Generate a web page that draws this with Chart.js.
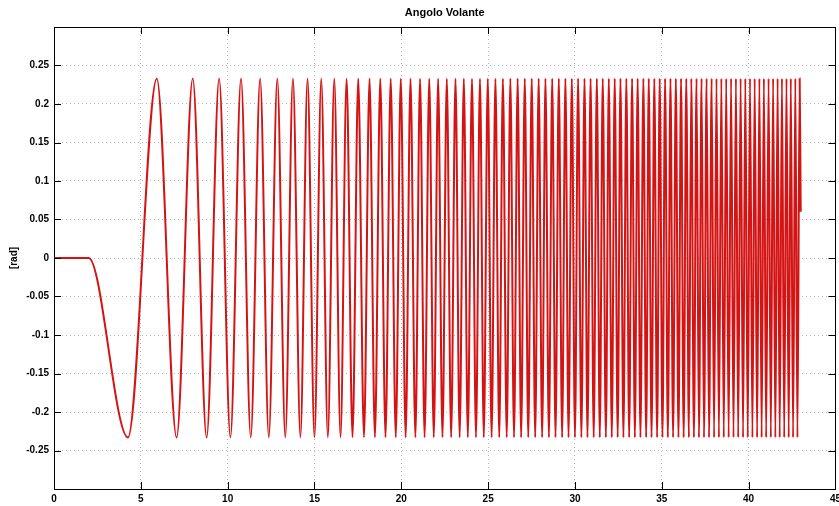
<!DOCTYPE html>
<html>
<head>
<meta charset="utf-8">
<title>Angolo Volante</title>
<script src="https://cdn.jsdelivr.net/npm/chart.js@4.4.1/dist/chart.umd.min.js"></script>
<style>
  html, body { margin: 0; padding: 0; background: #fff; overflow: hidden; }
  #wrap { position: relative; width: 845px; height: 506px; }
</style>
</head>
<body>
<div id="wrap"><canvas id="chart"></canvas></div>
<script>
const chartTitle = 'Angolo Volante';
const yLabel = '[rad]';
const xTicks = [0, 5, 10, 15, 20, 25, 30, 35, 40, 45];
const yTicks = [-0.25, -0.2, -0.15, -0.1, -0.05, 0, 0.05, 0.1, 0.15, 0.2, 0.25];

// signal at rest before the sweep starts
const flatStart = [[0, 0], [2, 0]];
// times [s] of the minima and maxima of the sweep
const troughTimes = [
  4.26, 7.06, 8.79, 10.16, 11.33, 12.37, 13.32, 14.19, 15.00, 15.77,
  16.50, 17.19, 17.85, 18.48, 19.09, 19.68, 20.25, 20.81, 21.34, 21.87,
  22.37, 22.87, 23.36, 23.83, 24.30, 24.75, 25.20, 25.64, 26.07, 26.49,
  26.90, 27.31, 27.71, 28.11, 28.50, 28.88, 29.26, 29.63, 30.00, 30.37,
  30.72, 31.08, 31.43, 31.78, 32.12, 32.46, 32.79, 33.12, 33.45, 33.77,
  34.10, 34.41, 34.73, 35.04, 35.35, 35.65, 35.96, 36.26, 36.56, 36.85,
  37.14, 37.43, 37.72, 38.01, 38.29, 38.57, 38.85, 39.13, 39.40, 39.68,
  39.95, 40.22, 40.49, 40.75, 41.01, 41.28, 41.54, 41.79, 42.05, 42.31,
  42.56, 42.81
];
const peakTimes = [
  5.92, 7.99, 9.51, 10.77, 11.87, 12.86, 13.76, 14.60, 15.39, 16.14,
  16.85, 17.52, 18.17, 18.79, 19.39, 19.97, 20.53, 21.08, 21.61, 22.12,
  22.62, 23.12, 23.60, 24.07, 24.53, 24.98, 25.42, 25.85, 26.28, 26.70,
  27.11, 27.51, 27.91, 28.30, 28.69, 29.07, 29.45, 29.82, 30.18, 30.55,
  30.90, 31.26, 31.60, 31.95, 32.29, 32.62, 32.96, 33.29, 33.61, 33.94,
  34.25, 34.57, 34.88, 35.19, 35.50, 35.81, 36.11, 36.41, 36.70, 37.00,
  37.29, 37.58, 37.87, 38.15, 38.43, 38.71, 38.99, 39.27, 39.54, 39.81,
  40.08, 40.35, 40.62, 40.88, 41.15, 41.41, 41.67, 41.92, 42.18, 42.43,
  42.69, 42.94
];
const peakValue = 0.233;
const troughValue = -0.233;
const endPoint = [43.0, 0.06];

function buildPoints() {
    const ext = troughTimes.map(x => ({ x, y: troughValue }))
        .concat(peakTimes.map(x => ({ x, y: peakValue })))
        .sort((a, b) => a.x - b.x);
    return flatStart.map(([x, y]) => ({ x, y }))
        .concat(ext, [{ x: endPoint[0], y: endPoint[1] }]);
}

const FONT = "'Liberation Sans', Arial, sans-serif";

// box, inward tick marks and title in the Matlab style
const frame = {
    id: 'frame',
    afterDraw(chart) {
        const { ctx, chartArea: a, scales: { x, y } } = chart;
        ctx.save();
        ctx.strokeStyle = '#000';
        ctx.lineWidth = 1;
        ctx.strokeRect(Math.round(a.left) + 0.5, Math.round(a.top) + 0.5,
            Math.round(a.right - a.left), Math.round(a.bottom - a.top));
        ctx.beginPath();
        xTicks.forEach(v => {
            const px = Math.round(x.getPixelForValue(v)) + 0.5;
            ctx.moveTo(px, a.bottom); ctx.lineTo(px, a.bottom - 7);
            ctx.moveTo(px, a.top); ctx.lineTo(px, a.top + 7);
        });
        yTicks.forEach(v => {
            const py = Math.round(y.getPixelForValue(v)) + 0.5;
            ctx.moveTo(a.left, py); ctx.lineTo(a.left + 7, py);
            ctx.moveTo(a.right, py); ctx.lineTo(a.right - 7, py);
        });
        ctx.stroke();
        ctx.fillStyle = '#000';
        ctx.font = 'bold 11px ' + FONT;
        ctx.textAlign = 'center';
        ctx.textBaseline = 'middle';
        ctx.fillText(chartTitle, (a.left + a.right) / 2, 13);
        ctx.restore();
    }
};

new Chart(document.getElementById('chart'), {
    type: 'line',
    data: {
        datasets: [{
            data: buildPoints(),
            borderColor: '#d41414',
            borderWidth: 2,
            pointRadius: 0,
            cubicInterpolationMode: 'monotone',
            fill: false,
        }],
    },
    options: {
        responsive: true,
        maintainAspectRatio: false,
        animation: false,
        layout: { padding: { top: 27, right: 7, left: 0, bottom: 0 } },
        plugins: { legend: { display: false }, tooltip: { enabled: false } },
        scales: {
            x: {
                type: 'linear',
                min: 0,
                max: 45,
                afterBuildTicks: s => { s.ticks = xTicks.map(value => ({ value })); },
                afterFit: s => { s.height = 17; },
                grid: { color: '#b8b8b8', lineWidth: 1, drawTicks: false },
                border: { display: false, dash: [1, 3] },
                ticks: { color: '#000', padding: 4, maxRotation: 0, font: { family: FONT, size: 10, weight: 'bold' } },
            },
            y: {
                type: 'linear',
                min: -0.3,
                max: 0.3,
                afterBuildTicks: s => { s.ticks = yTicks.map(value => ({ value })); },
                afterFit: s => { s.width = 54; },
                grid: { color: '#b8b8b8', lineWidth: 1, drawTicks: false },
                border: { display: false, dash: [1, 3] },
                ticks: {
                    color: '#000', padding: 5,
                    font: { family: FONT, size: 10, weight: 'bold' },
                    callback: v => String(+Number(v).toFixed(2)),
                },
                title: {
                    display: true, text: yLabel, color: '#000',
                    font: { family: FONT, size: 10, weight: 'bold' },
                    padding: { top: 8, bottom: 0 },
                },
            },
        },
    },
    plugins: [frame],
});
</script>
</body>
</html>
